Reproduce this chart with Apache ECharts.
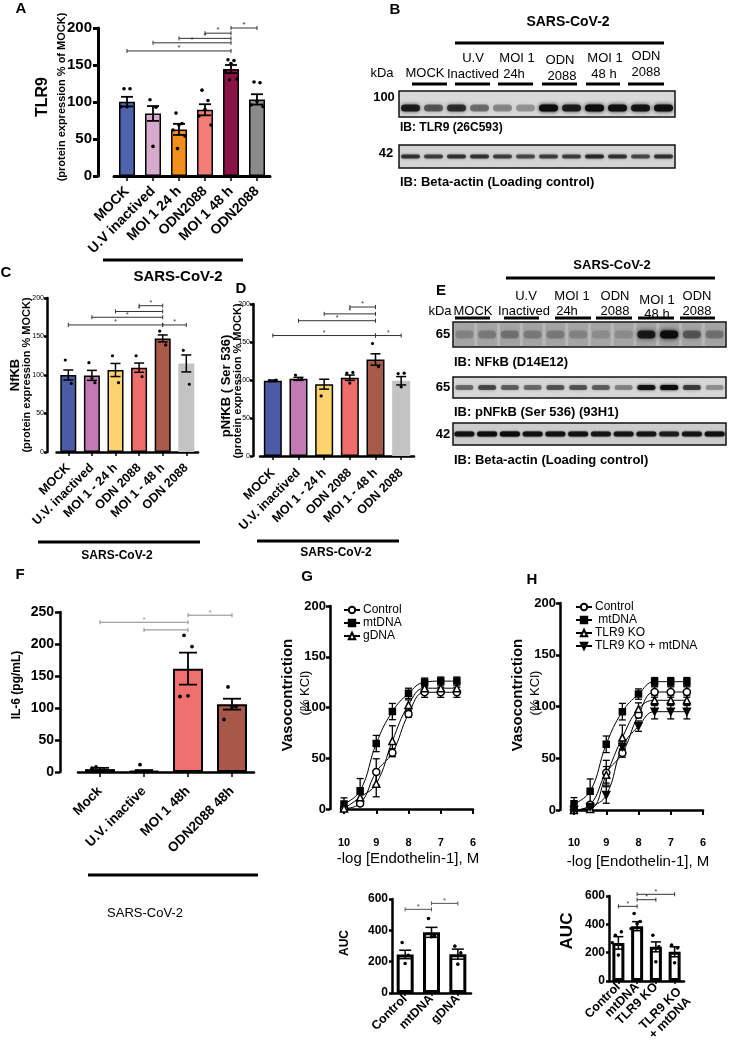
<!DOCTYPE html>
<html><head><meta charset="utf-8">
<script src="https://cdn.jsdelivr.net/npm/echarts@6/dist/echarts.min.js"></script>
<style>html,body{margin:0;padding:0;background:#fff}#c{width:729px;height:1047px}</style>
</head><body><div id="c"></div>
<script>
const FONT = '"Liberation Sans", Arial, Helvetica, sans-serif';
const NARROW = '"Liberation Sans Narrow", "Liberation Sans", Arial, sans-serif';

// ---------- Panel A (TLR9) ----------
const catsA = ['MOCK','U.V inactived','MOI 1 24 h','ODN2088','MOI 1 48 h','ODN2088'];
const meanA = [100.5, 84.5, 63, 89.5, 144.5, 103.5];
const semA  = [6.5, 10, 7.5, 7.5, 5.5, 7];
const ptsA  = [[118,118,93.5,93.5],[103,93,40],[85,71,69,62,54,37],[116,102,90,81,69],[157,156,152,142,131,130],[127,126,101,96,94]];
const sigA  = [[4,5,200,1],[3,4,193,1],[2,4,186,1],[1,4,180,1],[0,4,169,1]];
const colorsA = ['#4f63ad','#d7a9cc','#f28e1c','#f37c77','#8b1446','#8a8a8a'];

// ---------- Panel C (NfKB) ----------
const catsC = ['MOCK','U.V. inactived','MOI 1 - 24 h','ODN 2088','MOI 1 - 48 h','ODN 2088'];
const meanC = [100, 99.5, 106.5, 109.5, 147.5, 115];
const semC  = [6.5, 6.5, 8.5, 6, 4.5, 11];
const ptsC  = [[119.5,89],[116,90,96],[125,90],[125,98],[157,139],[132,88]];
const sigC  = [[3,4,190,1],[2,4,182.5,1],[1,4,175,1],[0,4,165,1],[4,5,165,1]];

// ---------- Panel D (pNfKB) ----------
const catsD = ['MOCK','U.V. inactived','MOI 1 - 24 h','ODN 2088','MOI 1 - 48 h','ODN 2088'];
const meanD = [99, 101.5, 94.5, 103, 127, 99];
const semD  = [1, 2, 6.5, 3.5, 7.5, 5.5];
const ptsD  = [[99,100],[106.5,101],[79],[109,110,96],[148,117.5],[108.5,109,91]];
const sigD  = [[3,4,196,1],[2,4,187,1],[1,4,178,1],[0,4,158.5,1],[4,5,158.5,1]];
const colorsCD = ['#4b5ba6','#c27ab4','#fcd46d','#ee6e6b','#a65a47','#c3c3c3'];

// ---------- Panel F (IL-6) ----------
const catsF = ['Mock','U.V. inactive','MOI 1 48h','ODN2088 48h'];
const meanF = [4.5, 1.5, 161.5, 106];
const semF  = [2, 1.5, 25, 8.5];
const ptsF  = [[8,3,2,6],[11.5,0.5,0.5,0.5],[213.5,196,119,118],[133,102.5,101.5,82]];
const sigF  = [[2,3,245,1],[0,2,234,1],[1,2,222,0]];
const colorsF = ['#3d4a78','#4a4f66','#ef716f','#a85848'];

// ---------- Panel G (curves) ----------
const logX = [10, 9.5, 9, 8.5, 8, 7.5, 7, 6.5];
const gControl = [0.5, 5.5, 36.5, 55.5, 93.5, 115, 115, 115];
const gControlSem = [2, 2, 13, 4, 3, 5, 5, 5];
const gMt = [5, 18, 64.5, 96, 114, 125, 126, 126];
const gMtSem = [6, 12, 8, 8, 5, 4, 4, 4];
const gGdna = [0.5, 11.5, 25, 67, 102.5, 119, 119, 119];
const gGdnaSem = [2, 3, 13, 15, 5, 5, 5, 5];

// ---------- Panel H (curves) ----------
const hControl = [0, 5, 36, 55, 92, 114, 114, 114];
const hControlSem = [2, 2, 12, 4, 3, 5, 5, 5];
const hMt = [6, 18, 63.5, 95, 112, 124, 124, 124];
const hMtSem = [6, 12, 8, 8, 5, 4, 4, 4];
const hKO = [0, 1, 34, 70, 97.5, 106, 106, 106];
const hKOSem = [1, 2, 8, 12, 6, 5, 5, 5];
const hKOmt = [0, 3, 14.5, 61, 81, 95, 95, 95];
const hKOmtSem = [1, 2, 8, 6, 5, 7, 7, 7];

// ---------- AUC ----------
const catsAG = ['Control','mtDNA','gDNA'];
const meanAG = [246, 387, 248];
const semAG  = [27, 32, 32];
const ptsAG  = [[322,241,188],[476,363,359],[299,256,184]];
const sigAG  = [[0,1,534,1],[1,2,572,1]];
const catsAH = ['Control','mtDNA','TLR9 KO','TLR9 KO\n+ mtDNA'];
const meanAH = [269, 387, 241, 206];
const semAH  = [44, 32, 35, 35];
const ptsAH  = [[323,347,183,270],[476,420,405,370],[323,241,136],[253,234,129]];
const sigAH  = [[0,1,527,1],[1,2,574,1],[1,3,612,1]];

// ---------- Blots (band intensity per lane, 12 lanes) ----------
const tlr9B  = [0.85,0.55,0.75,0.45,0.35,0.3,1,0.85,1,0.95,0.9,0.95];
const actinB = [0.7,0.65,0.7,0.7,0.65,0.6,0.65,0.65,0.75,0.7,0.6,0.7];
const nfkbE  = [0.2,0.25,0.3,0.25,0.25,0.2,0.15,0.15,0.85,1,0.45,0.3];
const pnfkbE = [0.45,0.6,0.5,0.45,0.55,0.55,0.5,0.35,0.9,1,0.65,0.3];
const actinE = [0.9,0.95,1,0.9,0.9,0.9,0.85,0.85,0.85,0.8,0.85,0.9];

// ================= builders =================
const grids=[], xAxes=[], yAxes=[], series=[], G=[];
const JIT=[-1,1,0,-2,2,-0.5,0.5];

function errRender(cap, lw){
  return function(params, api){
    const x=api.value(0), m=api.value(1), e=api.value(2);
    const a=api.coord([x,m+e]), b=api.coord([x,m-e]);
    const st={stroke:'#000', lineWidth:lw};
    return {type:'group', children:[
      {type:'line', shape:{x1:a[0],y1:a[1],x2:b[0],y2:b[1]}, style:st},
      {type:'line', shape:{x1:a[0]-cap,y1:a[1],x2:a[0]+cap,y2:a[1]}, style:st},
      {type:'line', shape:{x1:b[0]-cap,y1:b[1],x2:b[0]+cap,y2:b[1]}, style:st}]};
  };
}
function ptRender(r, step){
  return function(params, api){
    const c=api.coord([api.value(0), api.value(1)]);
    const k=api.value(2);
    return {type:'circle', shape:{cx:c[0]+JIT[k%JIT.length]*step, cy:c[1], r:r}, style:{fill:'#000'}};
  };
}
function sigRender(color, tick, fs, lw){
  return function(params, api){
    const y=api.value(2);
    const a=api.coord([api.value(0), y]), b=api.coord([api.value(1), y]);
    const st={stroke:color, lineWidth:lw};
    const ch=[
      {type:'line', shape:{x1:a[0],y1:a[1],x2:b[0],y2:b[1]}, style:st},
      {type:'line', shape:{x1:a[0],y1:a[1]-tick,x2:a[0],y2:a[1]+tick}, style:st},
      {type:'line', shape:{x1:b[0],y1:b[1]-tick,x2:b[0],y2:b[1]+tick}, style:st}];
    if (api.value(3)) ch.push({type:'text', style:{text:'*', x:(a[0]+b[0])/2, y:a[1]+1, fill:color, fontSize:fs, fontFamily:FONT, align:'center', verticalAlign:'bottom', textAlign:'center', textVerticalAlign:'bottom'}});
    return {type:'group', children:ch};
  };
}
function bandRender(bw, bh, blur){
  return function(params, api){
    const c=api.coord([api.value(0), api.value(1)]);
    const v=api.value(2);
    const col='rgba(12,12,12,'+v+')';
    return {type:'rect', shape:{x:c[0]-bw/2, y:c[1]-bh/2, width:bw, height:bh, r:bh/2},
      style:{fill:col, shadowBlur:blur, shadowColor:col}};
  };
}

function addBarPanel(p){
  const gi=grids.length;
  grids.push({left:p.left, top:p.top, width:p.width, height:p.height});
  const catData = p.cats.map(c => c.indexOf('\n')>=0 ? {value:c, textStyle:{verticalAlign:'top'}} : c);
  xAxes.push({type:'category', gridIndex:gi, data:catData, offset:p.xOffset||0,
    axisLine:{lineStyle:{color:'#000', width:p.axisW}},
    axisTick:{show:true, length:p.tickLen||4, alignWithLabel:true, lineStyle:{color:'#000', width:1.5}},
    axisLabel:{rotate:45, interval:0, color:'#000', fontFamily:FONT, fontWeight:'bold', fontSize:p.xFont, margin:p.xMargin||6, lineHeight:p.xFont+1},
    splitLine:{show:false}});
  yAxes.push({type:'value', gridIndex:gi, min:p.yMin, max:p.yMax, interval:p.yInt, offset:p.yOffset||0,
    axisLine:{show:true, lineStyle:{color:'#000', width:p.axisW}},
    axisTick:{show:true, length:p.yTickLen||5, lineStyle:{color:'#000', width:p.axisW}},
    axisLabel:{color:'#000', fontFamily:FONT, fontWeight:p.yBold===false?'normal':'bold', fontSize:p.yFont, margin:p.yMargin||6},
    splitLine:{show:false}});
  series.push({type:'bar', xAxisIndex:gi, yAxisIndex:gi, barWidth:p.barWidth, silent:true,
    data:p.means.map((v,i)=>({value:v, itemStyle:{color:p.colors[i], borderColor:p.borders?p.borders[i]:'#000', borderWidth:p.barBorder}}))});
  series.push({type:'custom', xAxisIndex:gi, yAxisIndex:gi, z:5, silent:true, encode:{x:0,y:1},
    data:p.means.map((v,i)=>[i,v,p.sems[i]]), renderItem:errRender(p.cap, p.errW||1.5)});
  const pd=[]; p.pts.forEach((arr,i)=>arr.forEach((v,k)=>pd.push([i,v,k])));
  series.push({type:'custom', xAxisIndex:gi, yAxisIndex:gi, z:6, silent:true, encode:{x:0,y:1},
    data:pd, renderItem:ptRender(p.ptR, p.jit)});
  series.push({type:'custom', xAxisIndex:gi, yAxisIndex:gi, z:6, silent:true, encode:{x:0,y:2},
    data:p.sigs, renderItem:sigRender(p.sigColor||'#222', p.sigTick||2, p.starFs||8, p.sigW||1)});
}

function addCurvePanel(p){
  const gi=grids.length;
  grids.push({left:p.left, top:p.top, width:p.width, height:p.height});
  xAxes.push({type:'value', gridIndex:gi, min:6, max:10, interval:1, inverse:true, offset:p.xOffset,
    axisLine:{lineStyle:{color:'#000', width:2.5}},
    axisTick:{show:true, length:5, lineStyle:{color:'#000', width:2}},
    axisLabel:{color:'#000', fontFamily:FONT, fontWeight:'bold', fontSize:11, margin:4},
    splitLine:{show:false}});
  yAxes.push({type:'value', gridIndex:gi, min:0, max:200, interval:50, offset:p.yOffset,
    axisLine:{show:true, lineStyle:{color:'#000', width:2.5}},
    axisTick:{show:true, length:4, lineStyle:{color:'#000', width:2.5}},
    axisLabel:{color:'#000', fontFamily:FONT, fontWeight:'bold', fontSize:13, margin:4},
    splitLine:{show:false}});
  p.groups.forEach(g=>{
    series.push({type:'custom', xAxisIndex:gi, yAxisIndex:gi, z:3, silent:true, encode:{x:0,y:1},
      data:logX.map((x,i)=>[x, g.mean[i], g.sem[i]]), renderItem:errRender(3.5, 1.3)});
    series.push({type:'line', name:g.name, xAxisIndex:gi, yAxisIndex:gi, z:4, silent:true,
      data:logX.map((x,i)=>[x, g.mean[i]]).reverse(), smooth:0.45,
      symbol:g.symbol, symbolSize:g.size, symbolRotate:g.rot||0, showSymbol:true,
      lineStyle:{color:'#000', width:1},
      itemStyle:{color:g.fill, borderColor:'#000', borderWidth:1.5}});
  });
}

function addBlot(p){
  const gi=grids.length;
  grids.push({left:p.left, top:p.top, width:p.width, height:p.height, show:true,
    backgroundColor:p.bg, borderColor:'#111', borderWidth:1.5});
  xAxes.push({type:'value', gridIndex:gi, min:0, max:12, show:false});
  yAxes.push({type:'value', gridIndex:gi, min:0, max:1, show:false});
  if (p.stripes){
    series.push({type:'custom', xAxisIndex:gi, yAxisIndex:gi, z:1, silent:true, encode:{x:0,y:1},
      data:p.vals.map((v,i)=>[i,0]),
      renderItem:function(params, api){
        const a=api.coord([api.value(0),1]), b=api.coord([api.value(0)+1,0]);
        return {type:'rect', shape:{x:a[0]+1.5, y:a[1], width:b[0]-a[0]-3, height:b[1]-a[1]}, style:{fill:'rgba(80,80,80,0.18)'}};
      }});
  }
  series.push({type:'custom', xAxisIndex:gi, yAxisIndex:gi, z:2, silent:true, encode:{x:0,y:1},
    data:p.vals.map((v,i)=>[i+0.5, p.yv, v]), renderItem:bandRender(p.bw, p.bh, p.blur||3)});
}

function txt(x,y,s,size,o){
  o=o||{};
  G.push({type:'text', x:x, y:y, rotation:o.rot?Math.PI/2:0, silent:true,
    style:{text:s, x:0, y:0, fontSize:size, fontWeight:o.bold===false?'normal':'bold', fontFamily:o.font||FONT, fill:'#000',
      align:o.align||'center', verticalAlign:'middle', textAlign:o.align||'center', textVerticalAlign:'middle'}});
}
function hline(x1,x2,y,w){
  G.push({type:'line', silent:true, shape:{x1:x1,y1:y,x2:x2,y2:y}, style:{stroke:'#000', lineWidth:w}});
}

// ---------- Panel A ----------
addBarPanel({left:114, top:28, width:156, height:148, cats:catsA, means:meanA, sems:semA, pts:ptsA, sigs:sigA,
  colors:colorsA, yMin:0, yMax:200, yInt:50, yOffset:16, xOffset:7, axisW:3, xFont:14, yFont:15,
  barWidth:16, barBorder:1.5, cap:6, errW:1.8, ptR:1.8, jit:3, sigColor:'#333', starFs:8, tickLen:5, yTickLen:5});
// ---------- Panel C ----------
addBarPanel({left:56.5, top:298, width:141.6, height:154, cats:catsC, means:meanC, sems:semC, pts:ptsC, sigs:sigC,
  colors:colorsCD, borders:['#000','#000','#000','#000','#000','#c3c3c3'], yMin:0, yMax:200, yInt:50, yOffset:9.5, xOffset:8,
  axisW:2.5, xFont:12.5, yFont:7, yBold:false, yMargin:3, yTickLen:3,
  barWidth:16, barBorder:1.5, cap:5, errW:1.5, ptR:1.6, jit:3, sigColor:'#333', starFs:7, tickLen:4});
// ---------- Panel D ----------
addBarPanel({left:260, top:304, width:154, height:152, cats:catsD, means:meanD, sems:semD, pts:ptsD, sigs:sigD,
  colors:colorsCD, borders:['#000','#000','#000','#000','#000','#c3c3c3'], yMin:0, yMax:200, yInt:50, yOffset:7, xOffset:9,
  axisW:2.5, xFont:12.5, yFont:7, yBold:false, yMargin:3, yTickLen:3,
  barWidth:18, barBorder:1.5, cap:5, errW:1.5, ptR:1.6, jit:3, sigColor:'#333', starFs:7, tickLen:4});
// ---------- Panel F ----------
addBarPanel({left:78, top:612, width:176, height:160, cats:catsF, means:meanF, sems:semF, pts:ptsF, sigs:sigF,
  colors:colorsF, yMin:0, yMax:250, yInt:50, yOffset:18, xOffset:11, axisW:2.5, xFont:13.5, yFont:14,
  barWidth:30, barBorder:2, cap:9, errW:1.8, ptR:1.9, jit:4, sigColor:'#888', starFs:7, tickLen:5, yTickLen:5});
// ---------- Panel G / H ----------
addCurvePanel({left:344, top:606, width:129, height:203, xOffset:24, yOffset:14, groups:[
  {name:'Control', mean:gControl, sem:gControlSem, symbol:'circle', size:7, fill:'#fff'},
  {name:'mtDNA', mean:gMt, sem:gMtSem, symbol:'rect', size:6, fill:'#000'},
  {name:'gDNA', mean:gGdna, sem:gGdnaSem, symbol:'triangle', size:7, fill:'#fff'}]});
addCurvePanel({left:574, top:603, width:129, height:207, xOffset:23, yOffset:14, groups:[
  {name:'Control ', mean:hControl, sem:hControlSem, symbol:'circle', size:7, fill:'#fff'},
  {name:' mtDNA', mean:hMt, sem:hMtSem, symbol:'rect', size:6, fill:'#000'},
  {name:'TLR9 KO', mean:hKO, sem:hKOSem, symbol:'triangle', size:7, fill:'#fff'},
  {name:'TLR9 KO + mtDNA', mean:hKOmt, sem:hKOmtSem, symbol:'triangle', size:7, fill:'#000', rot:180}]});
// ---------- AUC ----------
addBarPanel({left:392, top:899, width:79, height:94, cats:catsAG, means:meanAG, sems:semAG, pts:ptsAG, sigs:sigAG,
  colors:['#fff','#fff','#fff'], yMin:0, yMax:600, yInt:200, axisW:2.5, xFont:12.5, yFont:12, yMargin:4, yTickLen:3,
  barWidth:17, barBorder:3, cap:6, errW:1.5, ptR:1.8, jit:3, sigColor:'#555', starFs:8, tickLen:3, xMargin:4});
addBarPanel({left:609, top:896, width:75, height:85, cats:catsAH, means:meanAH, sems:semAH, pts:ptsAH, sigs:sigAH,
  colors:['#fff','#fff','#fff','#fff'], yMin:0, yMax:600, yInt:200, axisW:2.5, xFont:12.5, yFont:12, yMargin:4, yTickLen:3,
  barWidth:12, barBorder:3, cap:5, errW:1.5, ptR:1.8, jit:3, sigColor:'#333', starFs:7, tickLen:3, xMargin:4});
// ---------- Blots ----------
addBlot({left:399, top:91, width:276, height:26, bg:'#d9d9d9', vals:tlr9B, yv:0.35, bw:19, bh:7, blur:4});
addBlot({left:399, top:145, width:276, height:23, bg:'#d4d4d4', vals:actinB, yv:0.5, bw:19, bh:4, blur:3});
addBlot({left:453, top:322, width:273, height:25, bg:'#b8b8b8', vals:nfkbE, yv:0.5, bw:18, bh:8, blur:5, stripes:true});
addBlot({left:453, top:377, width:273, height:21, bg:'#d6d6d6', vals:pnfkbE, yv:0.5, bw:18, bh:5, blur:3});
addBlot({left:453, top:423, width:273, height:22, bg:'#cbcbcb', vals:actinE, yv:0.5, bw:20, bh:5, blur:2});

// ---------- Texts / annotation lines ----------
txt(21,9,'A',15); txt(395,10,'B',15); txt(6,273,'C',15); txt(241,289,'D',15);
txt(441,291,'E',15); txt(20,575,'F',15); txt(307,577,'G',15); txt(532,580,'H',15);
// A
txt(43,97,'TLR9',16,{rot:1}); txt(62,97,'(protein expression % of MOCK)',11,{rot:1});
hline(103,243,260,3); txt(178,277,'SARS-CoV-2',15);
// B
txt(568,22,'SARS-CoV-2',14); hline(455,664,43,3);
txt(382,73,'kDa',13,{bold:false}); txt(425,73,'MOCK',13,{bold:false});
txt(473,58,'U.V',13,{bold:false}); txt(473,74,'Inactived',13,{bold:false});
txt(517,58,'MOI 1',13,{bold:false}); txt(514,74,'24h',13,{bold:false});
txt(560,60,'ODN',13,{bold:false}); txt(562,76,'2088',13,{bold:false});
txt(605,58,'MOI 1',13,{bold:false}); txt(604,74,'48 h',13,{bold:false});
txt(646,56,'ODN',13,{bold:false}); txt(646,72,'2088',13,{bold:false});
[[412,447],[455,490],[498,533],[542,577],[586,620],[628,664]].forEach(s=>hline(s[0],s[1],84,3));
txt(384,97,'100',13); txt(386,153,'42',13);
txt(400,128,'IB: TLR9 (26C593)',12,{align:'left'});
txt(400,182,'IB: Beta-actin (Loading control)',13,{align:'left'});
// C
txt(15,375,'NfKB',13,{rot:1}); txt(27,375,'(protein expression % MOCK)',11,{rot:1});
hline(38,200,542,3); txt(117,556,'SARS-CoV-2',12);
// D
txt(226,386,'pNfKB ( Ser 536)',13,{rot:1}); txt(238,381,'(protein expression % MOCK)',11,{rot:1});
hline(257,399,541,3); txt(336,553,'SARS-CoV-2',12);
// E
txt(612,265,'SARS-CoV-2',13); hline(506,715,278,3);
txt(440,311,'kDa',13,{bold:false}); txt(473,311,'MOCK',13,{bold:false});
txt(526,296,'U.V',13,{bold:false}); txt(524,311,'Inactived',13,{bold:false});
txt(572,296,'MOI 1',13,{bold:false}); txt(567,311,'24h',13,{bold:false});
txt(615,296,'ODN',13,{bold:false}); txt(615,311,'2088',13,{bold:false});
txt(657,300,'MOI 1',13,{bold:false}); txt(657,314,'48 h',13,{bold:false});
txt(697,296,'ODN',13,{bold:false}); txt(697,311,'2088',13,{bold:false});
[[455,490],[504,539],[555,591],[596,632],[638,674],[680,715]].forEach(s=>hline(s[0],s[1],318,3));
txt(443,334,'65',13); txt(443,387,'65',13); txt(443,434,'42',13);
txt(454,362,'IB: NFkB (D14E12)',13,{align:'left'});
txt(454,412,'IB: pNFkB (Ser 536) (93H1)',13,{align:'left'});
txt(454,460,'IB: Beta-actin (Loading control)',13,{align:'left'});
// F
txt(17,685,'IL-6 (pg/mL)',12,{rot:1}); hline(88,258,875,3); txt(145,913,'SARS-CoV-2',13,{bold:false});
// G
txt(288,695,'Vasocontriction',15,{rot:1}); txt(305,693,'(% KCl)',13,{rot:1,bold:false});
txt(408,859,'-log [Endothelin-1], M',15,{bold:false,font:NARROW});
// H
txt(518,695,'Vasocontriction',15,{rot:1}); txt(535,693,'(% KCl)',13,{rot:1,bold:false});
txt(638,862,'-log [Endothelin-1], M',15,{bold:false,font:NARROW});
// AUC
txt(345,943,'AUC',12,{rot:1}); txt(567,931,'AUC',17,{rot:1});

const chart = echarts.init(document.getElementById('c'), null, {renderer:'canvas'});
chart.setOption({
  backgroundColor:'#fff', animation:false,
  textStyle:{fontFamily:FONT},
  grid:grids, xAxis:xAxes, yAxis:yAxes, series:series, graphic:G,
  legend:[
    {left:338, top:599, orient:'vertical', itemGap:1, itemWidth:16, itemHeight:8, selectedMode:false,
     textStyle:{fontSize:12, fontFamily:FONT, color:'#000', padding:[0,0,0,-2]}, data:['Control','mtDNA','gDNA']},
    {left:570, top:596, orient:'vertical', itemGap:1, itemWidth:16, itemHeight:8, selectedMode:false,
     textStyle:{fontSize:12, fontFamily:FONT, color:'#000', padding:[0,0,0,-2]}, data:['Control ',' mtDNA','TLR9 KO','TLR9 KO + mtDNA']}
  ]
});
</script></body></html>
